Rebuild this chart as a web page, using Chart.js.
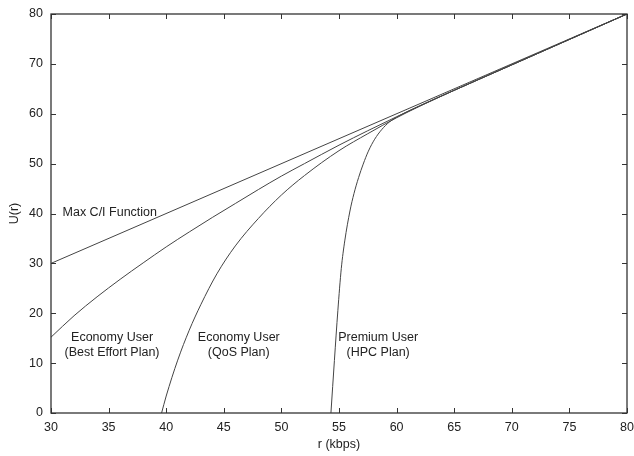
<!DOCTYPE html>
<html>
<head>
<meta charset="utf-8">
<script src="https://cdn.jsdelivr.net/npm/chart.js@4"></script>
<style>
    html, body { margin: 0; padding: 0; background: #fff; }
    #wrap { width: 634px; height: 456px; }
</style>
</head>
<body>
<div id="wrap"><canvas id="utility-chart" width="634" height="456"></canvas></div>
<script>
// values
const maxCiR = [30, 80];
const maxCiU = [30, 80];

const bestEffortR = [30, 32, 34, 36, 38, 40, 42, 44, 46, 48, 50, 52, 55, 57.5, 60, 65, 70, 75, 80];
const bestEffortU = [15.2, 19.5, 23.3, 26.8, 30.1, 33.3, 36.3, 39.2, 42.0, 44.8, 47.5, 50.0, 53.7, 56.6, 59.4, 64.7, 69.8, 74.9, 80];

const qosR = [39.6, 40, 41, 42, 43, 44.4, 46, 48, 50, 52, 55, 57.5, 60, 62, 65, 70, 75, 80];
const qosU = [0, 3.4, 10.6, 16.6, 21.7, 27.9, 33.5, 39.0, 43.7, 47.6, 52.6, 56.0, 59.2, 61.5, 64.7, 69.8, 74.9, 80];

const premiumR = [54.3, 54.6, 54.9, 55.2, 55.5, 55.95, 56.3, 56.7, 57.1, 57.55, 58.1, 58.7, 59.4, 60.15, 62, 65, 70, 75, 80];
const premiumU = [0, 10.5, 20.5, 29, 34.5, 40.5, 44.0, 47.2, 49.9, 52.5, 54.9, 56.8, 58.4, 59.5, 61.6, 64.7, 69.8, 74.9, 80];

const xTicks = [30, 35, 40, 45, 50, 55, 60, 65, 70, 75, 80];
const yTicks = [0, 10, 20, 30, 40, 50, 60, 70, 80];

const notes = [
    {lines: ['Max C/I Function'], r: 31.0, u: 40.1, align: 'left'},
    {lines: ['Economy User', '(Best Effort Plan)'], r: 35.3, u: 13.6, align: 'center'},
    {lines: ['Economy User', '(QoS Plan)'], r: 46.3, u: 13.6, align: 'center'},
    {lines: ['Premium User', '(HPC Plan)'], r: 58.4, u: 13.6, align: 'center'},
];

const FONT = '"Liberation Sans", Arial, sans-serif';
const INK = '#222';
const LINE = '#444';

let toPoints = (xs, ys) => xs.map((x, i) => ({x: x, y: ys[i]}));

let curve = (label, xs, ys) => {
    return {
        label: label,
        data: toPoints(xs, ys),
        borderColor: LINE,
        borderWidth: 1,
        pointRadius: 0,
        fill: false,
        cubicInterpolationMode: 'monotone',
    }
};

// box around the plot plus ticks pointing inward on all four sides
const framePlugin = {
    id: 'frame',
    afterDraw(chart) {
        const {ctx, chartArea: a, scales} = chart;
        const len = 5;
        ctx.save();
        ctx.strokeStyle = '#333';
        ctx.lineWidth = 1;
        ctx.beginPath();
        xTicks.forEach(v => {
            const px = Math.round(scales.x.getPixelForValue(v)) + 0.5;
            ctx.moveTo(px, a.bottom);
            ctx.lineTo(px, a.bottom - len);
            ctx.moveTo(px, a.top);
            ctx.lineTo(px, a.top + len);
        });
        yTicks.forEach(v => {
            const py = Math.round(scales.y.getPixelForValue(v)) + 0.5;
            ctx.moveTo(a.left, py);
            ctx.lineTo(a.left + len, py);
            ctx.moveTo(a.right, py);
            ctx.lineTo(a.right - len, py);
        });
        ctx.stroke();
        ctx.lineWidth = 1.3;
        ctx.strokeRect(a.left, a.top, a.right - a.left, a.bottom - a.top);
        ctx.restore();
    }
};

const notesPlugin = {
    id: 'notes',
    afterDatasetsDraw(chart) {
        const {ctx, scales} = chart;
        ctx.save();
        ctx.fillStyle = INK;
        ctx.font = '12.5px ' + FONT;
        ctx.textBaseline = 'middle';
        notes.forEach(n => {
            const px = scales.x.getPixelForValue(n.r);
            const py = scales.y.getPixelForValue(n.u);
            ctx.textAlign = n.align;
            const top = py - (n.lines.length - 1) * 15 / 2;
            n.lines.forEach((t, i) => ctx.fillText(t, px, top + i * 15));
        });
        ctx.restore();
    }
};

new Chart(document.getElementById('utility-chart').getContext('2d'), {
    type: 'line',
    data: {
        datasets: [
            curve('Max C/I Function', maxCiR, maxCiU),
            curve('Economy User (Best Effort Plan)', bestEffortR, bestEffortU),
            curve('Economy User (QoS Plan)', qosR, qosU),
            curve('Premium User (HPC Plan)', premiumR, premiumU),
        ]
    },
    options: {
        responsive: false,
        animation: false,
        layout: {padding: {top: 14, right: 7, left: 0, bottom: 0}},
        plugins: {
            legend: {display: false},
            tooltip: {enabled: false},
        },
        scales: {
            x: {
                type: 'linear',
                min: 30,
                max: 80,
                afterFit: (s) => {
                    s.height = 43;
                    s.paddingLeft = 0;
                    s.paddingRight = 0;
                },
                afterBuildTicks: (s) => { s.ticks = xTicks.map(v => ({value: v})); },
                grid: {display: false, drawTicks: false},
                border: {display: false},
                ticks: {color: INK, font: {family: FONT, size: 12.5}, padding: 7, maxRotation: 0},
                title: {display: true, text: 'r (kbps)', color: INK, font: {family: FONT, size: 12.5}, padding: {top: 0, bottom: 4}},
            },
            y: {
                type: 'linear',
                min: 0,
                max: 80,
                afterFit: (s) => {
                    s.width = 51;
                    s.paddingTop = 0;
                    s.paddingBottom = 0;
                },
                afterBuildTicks: (s) => { s.ticks = yTicks.map(v => ({value: v})); },
                grid: {display: false, drawTicks: false},
                border: {display: false},
                ticks: {color: INK, font: {family: FONT, size: 12.5}, padding: 8},
                title: {display: true, text: 'U(r)', color: INK, font: {family: FONT, size: 12.5}, padding: {top: 7, bottom: 0}},
            },
        },
    },
    plugins: [framePlugin, notesPlugin],
});
</script>
</body>
</html>
